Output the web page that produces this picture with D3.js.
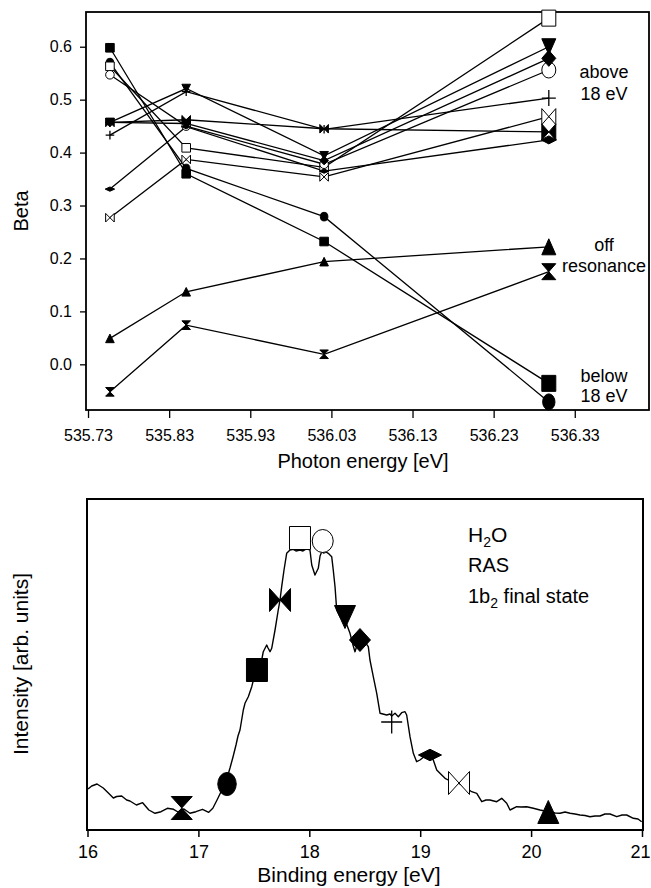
<!DOCTYPE html>
<html>
<head>
<meta charset="utf-8">
<script src="https://cdn.jsdelivr.net/npm/d3@7/dist/d3.min.js"></script>
<style>
  body { margin: 0; background: #fff; }
  svg { display: block; }
  text { font-family: "Liberation Sans", Arial, Helvetica, sans-serif; fill: #000; }
</style>
</head>
<body>
<svg id="chart" width="651" height="888"></svg>
<script>
// ---------- top panel: beta vs photon energy ----------
const photonEnergy = [535.757, 535.851, 536.021, 536.298];
const photonTicks = [535.73, 535.83, 535.93, 536.03, 536.13, 536.23, 536.33];
const betaTicks = [0.0, 0.1, 0.2, 0.3, 0.4, 0.5, 0.6];

// one marker shape per final state, same order as the markers on the spectrum
const shapeNames = ["hourglass", "circleFilled", "squareFilled", "bowtieFilled",
  "squareOpen", "circleOpen", "triDown", "diamond", "plus", "diamondFlat",
  "bowtieOpen", "triUp"];

const betaHourglass    = [-0.052, 0.074, 0.019, 0.175];
const betaCircleFilled = [0.570, 0.370, 0.279, -0.071];
const betaSquareFilled = [0.598, 0.360, 0.232, -0.036];
const betaBowtieFilled = [0.457, 0.462, 0.445, 0.439];
const betaSquareOpen   = [0.563, 0.409, 0.372, 0.654];
const betaCircleOpen   = [0.547, 0.450, 0.378, 0.556];
const betaTriDown      = [0.457, 0.521, 0.394, 0.600];
const betaDiamond      = [0.457, 0.455, 0.385, 0.578];
const betaPlus         = [0.433, 0.515, 0.444, 0.503];
const betaDiamondFlat  = [0.331, 0.449, 0.365, 0.424];
const betaBowtieOpen   = [0.277, 0.387, 0.354, 0.468];
const betaTriUp        = [0.049, 0.137, 0.194, 0.222];

const betaSeries = [betaHourglass, betaCircleFilled, betaSquareFilled, betaBowtieFilled,
  betaSquareOpen, betaCircleOpen, betaTriDown, betaDiamond, betaPlus, betaDiamondFlat,
  betaBowtieOpen, betaTriUp];

// ---------- bottom panel: RAS spectrum ----------
const bindingEnergy = [16.005, 16.038, 16.086, 16.142, 16.188, 16.233, 16.263, 16.308, 16.353, 16.383,
  16.441, 16.497, 16.553, 16.609, 16.663, 16.720, 16.776, 16.816, 16.870, 16.924,
  16.978, 17.037, 17.093, 17.130, 17.168, 17.204, 17.231, 17.258, 17.285, 17.312,
  17.339, 17.357, 17.375, 17.405, 17.420, 17.450, 17.481, 17.501, 17.526, 17.546,
  17.571, 17.585, 17.616, 17.628, 17.646, 17.661, 17.691, 17.720, 17.736, 17.751,
  17.772, 17.796, 17.826, 17.856, 17.880, 17.916, 17.943, 17.977, 18.006, 18.022,
  18.051, 18.081, 18.097, 18.112, 18.128, 18.151, 18.171, 18.202, 18.216, 18.232,
  18.247, 18.277, 18.322, 18.367, 18.394, 18.412, 18.439, 18.473, 18.502, 18.532,
  18.547, 18.577, 18.608, 18.638, 18.698, 18.728, 18.743, 18.773, 18.803, 18.833,
  18.863, 18.878, 18.908, 18.938, 18.968, 18.998, 19.043, 19.088, 19.118, 19.149,
  19.194, 19.224, 19.253, 19.296, 19.350, 19.404, 19.464, 19.510, 19.555, 19.593,
  19.629, 19.690, 19.735, 19.780, 19.810, 19.870, 19.909, 19.960, 20.020, 20.080,
  20.155, 20.216, 20.261, 20.306, 20.351, 20.396, 20.441, 20.486, 20.531, 20.576,
  20.621, 20.666, 20.712, 20.772, 20.820, 20.862, 20.922, 20.964, 20.997];
const intensity = [41, 44, 46, 42, 37, 32, 33.5, 34, 30, 29,
  25, 27.3, 20, 16.7, 18.3, 21.7, 20.7, 18, 21, 16.7,
  18.3, 20.7, 17.7, 21.7, 30, 38.3, 44, 52, 62, 73,
  85, 94, 100, 120, 126.7, 133.3, 143.3, 152, 160, 166,
  170, 178.3, 185, 182, 178.3, 181.7, 200, 220, 230, 243.3,
  260, 276.7, 280, 280.7, 279, 280, 279, 281.3, 280, 265,
  255, 261.7, 274, 278.3, 277, 278, 276.7, 273.3, 260, 243.3,
  220, 213.3, 210, 196.7, 185, 178.3, 188, 186.7, 188, 183.3,
  170, 153.3, 136.7, 116.7, 115, 116, 114, 116.7, 113.3, 117.3,
  118.3, 115, 93.3, 76.7, 68.3, 70, 74, 75, 70, 60,
  55, 51.7, 50, 48, 46.7, 43, 38.3, 36.7, 28.3, 30,
  30, 28.3, 31.7, 26.7, 20, 23.3, 23, 23.3, 21.7, 20,
  18.3, 17, 16.7, 18, 16.7, 16, 15, 14.5, 13.3, 14,
  14, 16, 16, 13.3, 15, 15, 11.7, 11, 8.3];
const bindingTicks = [16, 17, 18, 19, 20, 21];

// where each final state sits on the spectrum
const markerEnergy = [16.850, 17.258, 17.528, 17.736, 17.916, 18.121, 18.322, 18.457, 18.743, 19.088, 19.350, 20.155];
const markerIntensity = [22, 46, 160, 230, 292, 289, 213, 190, 108, 75, 47, 18];

const svg = d3.select("#chart");

// draw one marker centred at the origin of g, half width w, half height h
function drawMarker(g, shape, w, h) {
  const filled = !/Open/.test(shape) && shape !== "plus";
  const fill = filled ? "#000" : "#fff";
  let d;
  switch (shape) {
    case "squareFilled":
    case "squareOpen":
      d = `M${-w},${-h}H${w}V${h}H${-w}Z`; break;
    case "triDown":
      d = `M${-w},${-h}L${w},${-h}L0,${h}Z`; break;
    case "triUp":
      d = `M0,${-h}L${w},${h}L${-w},${h}Z`; break;
    case "diamond":
      d = `M0,${-h}L${w},0L0,${h}L${-w},0Z`; break;
    case "diamondFlat":
      d = `M0,${-h * 0.5}L${w * 1.1},0L0,${h * 0.5}L${-w * 1.1},0Z`; break;
    case "bowtieFilled":
    case "bowtieOpen":
      d = `M${-w},${-h}L${w},${h}L${w},${-h}L${-w},${h}Z`; break;
    case "hourglass":
      d = `M${-w},${-h}L${w},${-h}L${-w},${h}L${w},${h}Z`; break;
    case "plus":
      d = `M${-w},0H${w}M0,${-h}V${h}`; break;
  }
  if (shape === "circleFilled" || shape === "circleOpen") {
    g.append("ellipse").attr("rx", shape === "circleFilled" ? w * 0.88 : w).attr("ry", h)
      .attr("fill", fill).attr("stroke", "#000").attr("stroke-width", 1);
  } else {
    g.append("path").attr("d", d)
      .attr("fill", shape === "plus" ? "none" : fill)
      .attr("stroke", "#000")
      .attr("stroke-width", shape === "plus" ? 1.3 : 1)
      .attr("stroke-linejoin", "miter");
  }
}

// ================= top panel =================
const xTop = d3.scaleLinear().domain([535.7275, 536.4215]).range([86, 649]);
const yTop = d3.scaleLinear().domain([-0.0863, 0.6656]).range([410, 12]);

const topPanel = svg.append("g");

topPanel.append("rect")
  .attr("x", 86).attr("y", 12).attr("width", 563).attr("height", 398)
  .attr("fill", "none").attr("stroke", "#000").attr("stroke-width", 1.8);

const axTopX = topPanel.append("g").attr("transform", "translate(0,410)")
  .call(d3.axisBottom(xTop).tickValues(photonTicks).tickFormat(d3.format(".2f"))
    .tickSize(8).tickPadding(12));
const axTopY = topPanel.append("g").attr("transform", "translate(86,0)")
  .call(d3.axisLeft(yTop).tickValues(betaTicks).tickFormat(d3.format(".1f"))
    .tickSize(6).tickPadding(8));
[axTopX, axTopY].forEach(ax => {
  ax.select(".domain").remove();
  ax.selectAll(".tick line").attr("stroke", "#000").attr("stroke-width", 1.3);
  ax.selectAll("text").attr("font-size", 16).attr("font-family", null);
});

const line = d3.line().x((d, i) => xTop(photonEnergy[i])).y(d => yTop(d));
topPanel.selectAll("path.series")
  .data(betaSeries).enter()
  .append("path").attr("class", "series")
  .attr("d", line)
  .attr("fill", "none").attr("stroke", "#000").attr("stroke-width", 1.3);

betaSeries.forEach((vals, s) => {
  vals.forEach((v, i) => {
    const big = i === photonEnergy.length - 1;
    const g = topPanel.append("g").attr("transform", `translate(${xTop(photonEnergy[i])},${yTop(v)})`);
    drawMarker(g, shapeNames[s], big ? 7 : 4.3, big ? 8 : 4.3);
  });
});

const notes = [
  ["above", 78], ["18 eV", 100], ["off", 251], ["resonance", 272], ["below", 382], ["18 eV", 402]
];
topPanel.selectAll("text.note").data(notes).enter()
  .append("text").attr("class", "note")
  .attr("x", 604).attr("y", d => d[1])
  .attr("text-anchor", "middle").attr("font-size", 18)
  .text(d => d[0]);

topPanel.append("text")
  .attr("x", 363).attr("y", 468).attr("text-anchor", "middle").attr("font-size", 20)
  .text("Photon energy [eV]");
topPanel.append("text")
  .attr("transform", "translate(28,211) rotate(-90)")
  .attr("text-anchor", "middle").attr("font-size", 20)
  .text("Beta");

// ================= bottom panel =================
const xBot = d3.scaleLinear().domain([16, 21]).range([87.5, 642]);
const yBot = d3.scaleLinear().domain([0, 331]).range([830, 499]);

const botPanel = svg.append("g");

botPanel.append("rect")
  .attr("x", 87).attr("y", 499).attr("width", 556).attr("height", 331)
  .attr("fill", "none").attr("stroke", "#000").attr("stroke-width", 2);

const axBotX = botPanel.append("g").attr("transform", "translate(0,830)")
  .call(d3.axisBottom(xBot).tickValues(bindingTicks).tickFormat(d3.format("d"))
    .tickSize(7).tickPadding(8));
axBotX.select(".domain").remove();
axBotX.selectAll(".tick line").attr("stroke", "#000").attr("stroke-width", 1.5);
axBotX.selectAll("text").attr("font-size", 18).attr("font-family", null);
// last label sits against the page edge, keep it inside
axBotX.selectAll(".tick").filter(d => d === 21).select("text")
  .attr("text-anchor", "end").attr("x", 650 - xBot(21));

botPanel.append("path")
  .datum(bindingEnergy.map((e, i) => [e, intensity[i]]))
  .attr("d", d3.line().x(d => xBot(d[0])).y(d => yBot(d[1])))
  .attr("fill", "none").attr("stroke", "#000").attr("stroke-width", 1.4)
  .attr("stroke-linejoin", "round");

markerEnergy.forEach((e, i) => {
  const g = botPanel.append("g").attr("transform", `translate(${xBot(e)},${yBot(markerIntensity[i])})`);
  drawMarker(g, shapeNames[i], 10.5, 11.5);
});

const label = botPanel.append("text").attr("x", 468).attr("y", 542).attr("font-size", 21);
label.append("tspan").text("H");
label.append("tspan").attr("font-size", 14).attr("dy", 5).text("2");
label.append("tspan").attr("dy", -5).text("O");
botPanel.append("text").attr("x", 468).attr("y", 572).attr("font-size", 20).text("RAS");
const fs = botPanel.append("text").attr("x", 468).attr("y", 603).attr("font-size", 20);
fs.append("tspan").text("1b");
fs.append("tspan").attr("font-size", 14).attr("dy", 5).text("2");
fs.append("tspan").attr("dy", -5).text(" final state");

botPanel.append("text")
  .attr("x", 349).attr("y", 882).attr("text-anchor", "middle").attr("font-size", 21)
  .text("Binding energy [eV]");
botPanel.append("text")
  .attr("transform", "translate(28,664) rotate(-90)")
  .attr("text-anchor", "middle").attr("font-size", 21)
  .text("Intensity [arb. units]");
</script>
</body>
</html>
